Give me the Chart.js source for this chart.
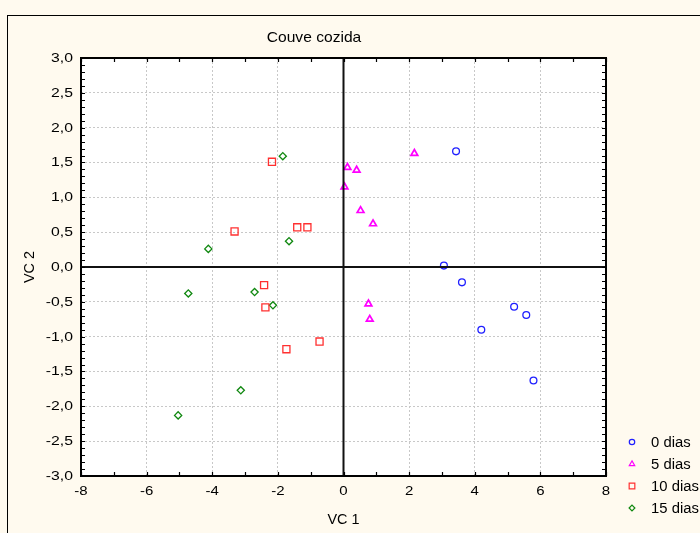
<!DOCTYPE html>
<html>
<head>
<meta charset="utf-8">
<script src="https://cdn.jsdelivr.net/npm/chart.js@4/dist/chart.umd.min.js"></script>
<style>
  html, body { margin: 0; padding: 0; background: #fffaef; }
  #wrap { width: 700px; height: 533px; position: relative; }
</style>
</head>
<body>
<div id="wrap"><canvas id="chart"></canvas></div>
<script>
// series values [VC 1, VC 2]
const dias0 = [[3.43, 1.66], [3.06, 0.02], [3.61, -0.22], [5.20, -0.57], [5.57, -0.69], [4.20, -0.90], [5.79, -1.63]];
const dias5 = [[0.12, 1.43], [0.40, 1.39], [0.03, 1.15], [0.52, 0.81], [0.90, 0.62], [2.16, 1.63], [0.76, -0.53], [0.80, -0.75]];
const dias10 = [[-2.18, 1.51], [-3.32, 0.51], [-1.41, 0.57], [-1.10, 0.57], [-2.42, -0.26], [-2.38, -0.58], [-0.73, -1.07], [-1.74, -1.18]];
const dias15 = [[-1.85, 1.59], [-4.12, 0.26], [-1.66, 0.37], [-4.73, -0.38], [-2.71, -0.36], [-2.15, -0.55], [-3.13, -1.77], [-5.04, -2.13]];

const seriesLabels = ["0 dias", "5 dias", "10 dias", "15 dias"];
const xTicks = [-8, -6, -4, -2, 0, 2, 4, 6, 8];
const yTicks = [-3, -2.5, -2, -1.5, -1, -0.5, 0, 0.5, 1, 1.5, 2, 2.5, 3];

const FONT = "Liberation Sans, Arial, sans-serif";

function toPoints(arr) {
  return arr.map(p => ({ x: p[0], y: p[1] }));
}

const styles = [
  { color: "#2020ff", pointStyle: "circle", radius: 3.4, width: 1.3 },
  { color: "#ff00ff", pointStyle: "triangle", radius: 3.9, width: 1.7 },
  { color: "#ff3030", pointStyle: "rect", radius: 5, width: 1.3 },
  { color: "#108810", pointStyle: "rectRot", radius: 3.6, width: 1.3 }
];

const allData = [dias0, dias5, dias10, dias15];

const datasets = allData.map((d, i) => ({
  label: seriesLabels[i],
  data: toPoints(d),
  pointStyle: styles[i].pointStyle,
  pointRadius: styles[i].radius,
  pointBorderColor: styles[i].color,
  pointBackgroundColor: "rgba(0,0,0,0)",
  pointBorderWidth: styles[i].width,
  showLine: false
}));

// text slightly stretched sideways, like the original export
function wideText(ctx, text, x, y, align, sx) {
  ctx.save();
  ctx.translate(x, y);
  ctx.scale(sx, 1);
  ctx.textAlign = align;
  ctx.fillText(text, 0, 0);
  ctx.restore();
}

// page decorations, frame, zero lines, inward ticks, texts and legend
const decorPlugin = {
  id: "decor",
  beforeDraw(chart) {
    const ctx = chart.ctx;
    const a = chart.chartArea;
    ctx.save();
    ctx.fillStyle = "#fffaef";
    ctx.fillRect(0, 0, chart.width, chart.height);
    ctx.strokeStyle = "#000";
    ctx.lineWidth = 1;
    ctx.strokeRect(7.5, 15.5, 800, 600);
    ctx.fillStyle = "#ffffff";
    ctx.fillRect(a.left, a.top, a.right - a.left, a.bottom - a.top);
    ctx.restore();
  },
  afterDatasetsDraw(chart) {
    const ctx = chart.ctx;
    const a = chart.chartArea;
    const xs = chart.scales.x;
    const ys = chart.scales.y;
    ctx.save();

    // zero lines
    ctx.strokeStyle = "#111";
    ctx.lineWidth = 2;
    ctx.beginPath();
    const x0 = xs.getPixelForValue(0);
    const y0 = ys.getPixelForValue(0);
    ctx.moveTo(x0, a.top);
    ctx.lineTo(x0, a.bottom);
    ctx.moveTo(a.left, y0);
    ctx.lineTo(a.right, y0);
    ctx.stroke();

    // frame
    ctx.lineWidth = 2;
    ctx.strokeStyle = "#000";
    ctx.strokeRect(a.left, a.top, a.right - a.left, a.bottom - a.top);

    // inward ticks
    ctx.lineWidth = 1.2;
    ctx.beginPath();
    for (let v = xs.min; v <= xs.max + 1e-9; v += 1) {
      const px = Math.round(xs.getPixelForValue(v)) + 0.5;
      ctx.moveTo(px, a.bottom);
      ctx.lineTo(px, a.bottom - 4);
      ctx.moveTo(px, a.top);
      ctx.lineTo(px, a.top + 4);
    }
    for (let v = ys.min; v <= ys.max + 1e-9; v += 0.1) {
      const py = Math.round(ys.getPixelForValue(v)) + 0.5;
      ctx.moveTo(a.left, py);
      ctx.lineTo(a.left + 4, py);
      ctx.moveTo(a.right, py);
      ctx.lineTo(a.right - 4, py);
    }
    ctx.stroke();

    // tick labels
    ctx.fillStyle = "#000";
    ctx.textBaseline = "middle";
    ctx.font = "12.5px " + FONT;
    yTicks.forEach(v => {
      wideText(ctx, v.toFixed(1).replace(".", ","), a.left - 8, ys.getPixelForValue(v) + 0.5, "right", 1.26);
    });
    xTicks.forEach(v => {
      wideText(ctx, String(v), xs.getPixelForValue(v), a.bottom + 16, "center", 1.2);
    });

    // title and axis titles
    ctx.font = "15px " + FONT;
    wideText(ctx, "Couve cozida", 314, 38, "center", 1.04);
    ctx.font = "14px " + FONT;
    wideText(ctx, "VC 1", (a.left + a.right) / 2, 520, "center", 1.03);
    ctx.save();
    ctx.translate(30, (a.top + a.bottom) / 2);
    ctx.rotate(-Math.PI / 2);
    wideText(ctx, "VC 2", 0, 0, "center", 1.03);
    ctx.restore();

    // legend
    const legendY = [442, 464, 486, 508];
    ctx.font = "14px " + FONT;
    seriesLabels.forEach((lab, i) => {
      ctx.strokeStyle = styles[i].color;
      ctx.fillStyle = "rgba(0,0,0,0)";
      Chart.helpers.drawPoint(ctx, {
        pointStyle: styles[i].pointStyle,
        radius: styles[i].radius * 0.8,
        borderWidth: 1.2
      }, 632, legendY[i]);
      ctx.fillStyle = "#000";
      wideText(ctx, lab, 651, legendY[i] + 1, "left", 1.06);
    });

    ctx.restore();
  }
};

new Chart(document.getElementById("chart"), {
  type: "scatter",
  data: { datasets: datasets },
  options: {
    responsive: true,
    maintainAspectRatio: false,
    animation: false,
    layout: { padding: { left: 0, top: 58, right: 94, bottom: 0 } },
    plugins: {
      legend: { display: false },
      tooltip: { enabled: false }
    },
    scales: {
      x: {
        type: "linear",
        min: -8,
        max: 8,
        afterFit(scale) { scale.height = 57; },
        afterBuildTicks(scale) { scale.ticks = xTicks.map(v => ({ value: v })); },
        grid: { color: "#c8c8c8", lineWidth: 1, drawTicks: false },
        border: { display: false, dash: [2, 2] },
        ticks: { display: false }
      },
      y: {
        type: "linear",
        min: -3,
        max: 3,
        afterFit(scale) { scale.width = 81; },
        afterBuildTicks(scale) { scale.ticks = yTicks.map(v => ({ value: v })); },
        grid: { color: "#c8c8c8", lineWidth: 1, drawTicks: false },
        border: { display: false, dash: [2, 2] },
        ticks: { display: false }
      }
    }
  },
  plugins: [decorPlugin]
});
</script>
</body>
</html>
